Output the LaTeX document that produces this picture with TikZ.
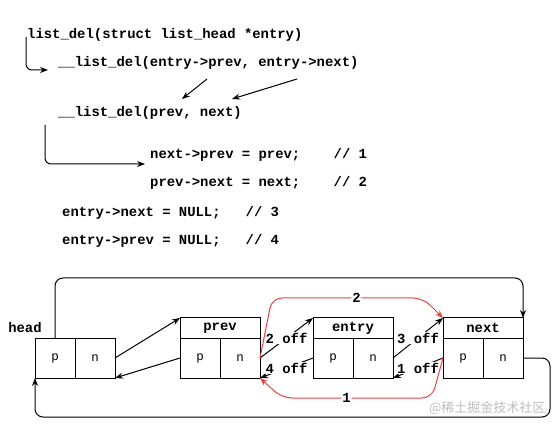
\documentclass[tikz,border=0pt]{standalone}
\usepackage{fontspec}
\setmainfont{Liberation Sans}
\setmonofont{Liberation Mono}
\newfontfamily\cjkfont{Noto Sans CJK SC}
\usetikzlibrary{arrows.meta}
\usetikzlibrary{positioning}
\definecolor{del-red}{HTML}{E84343}
\definecolor{mark-gray}{HTML}{BDBDBD}

\begin{document}
\begin{tikzpicture}[x=1pt, y=-1pt, >={Stealth[length=8pt, width=6pt]},
  code/.style={font=\fontsize{13.9}{16}\selectfont\ttfamily\bfseries, anchor=base west, inner sep=0pt},
  cell/.style={draw, line width=1pt, minimum width=40pt, minimum height=40pt, inner sep=0pt, outer sep=0pt, font=\fontsize{12.5}{14}\selectfont},
  titlebox/.style={draw, line width=1pt, minimum width=80pt, minimum height=20pt, inner sep=0pt, outer sep=0pt, font=\fontsize{13.9}{16}\selectfont\ttfamily\bfseries},
  offlabel/.style={font=\fontsize{13.9}{16}\selectfont\ttfamily\bfseries, fill=white, inner sep=1pt},
  link/.style={->, line width=1pt},
  red link/.style={->, draw=del-red, fill=none, line width=1pt, rounded corners=10pt}]
\useasboundingbox (0,0) rectangle (559,427);
% the calls
\node[code] (call) at (27,39) {list\_del(struct list\_head *entry)};
\node[code] (inner) at (58,67) {\_\_list\_del(entry->prev, entry->next)};
\node[code] (callee) at (58,117) {\_\_list\_del(prev, next)};
\node[code] (step1) at (150,159) {next->prev = prev;\ \ \ \ // 1};
\node[code] (step2) at (150,187) {prev->next = next;\ \ \ \ // 2};
\node[code] (step3) at (62,217) {entry->next = NULL;\ \ \ // 3};
\node[code] (step4) at (62,245) {entry->prev = NULL;\ \ \ // 4};
\coordinate (call-in) at (26,37);
\coordinate (inner-in) at (48,70);
\coordinate (prev-arg) at (207,79);
\coordinate (prev-par) at (182,99);
\coordinate (next-arg) at (297,79);
\coordinate (next-par) at (232,99);
\coordinate (callee-in) at (45,125);
\coordinate (step-in) at (145,164);
\draw[link, rounded corners=6pt] (call-in) |- (inner-in);
\draw[link] (prev-arg) -- (prev-par);
\draw[link] (next-arg) -- (next-par);
\draw[link, rounded corners=6pt] (callee-in) |- (step-in);
% the list
\node[code, anchor=base] (head) at (25,332) {head};
\node[cell] (head-p) at (55,358) {p};
\node[cell, right=0pt of head-p] (head-n) {n};
\foreach \x/\name in {180/prev, 313/entry, 443/next} {
  \node[titlebox, anchor=north west] (\name) at (\x,318) {\name};
  \node[cell, anchor=north west] (\name-p) at (\name.south west) {p};
  \node[cell, right=0pt of \name-p] (\name-n) {n};
}
\coordinate (top) at (0,278);
\coordinate (bottom) at (0,417);
\coordinate (far) at (550,0);
\draw[link, rounded corners=8pt] (head-p.north) -- (head-p.north |- top)
  -- (next.north east |- top) -- (next.north east);
\draw[link, rounded corners=8pt] (next-n.east) -- (next-n.east -| far)
  -- (far |- bottom) -- (head-p.south west |- bottom) -- (head-p.south west);
\draw[link] (head-n.east) -- (prev.north west);
\draw[link] (prev-p.west) -- (head-n.south east);
\draw[link] (prev-n.east) -- node[offlabel] {2 off} (entry.north west);
\draw[link] (entry-p.west) -- node[offlabel] {4 off} (prev-n.south east);
\draw[link] (entry-n.east) -- node[offlabel] {3 off} (next.north west);
\draw[link] (next-p.west) -- node[offlabel] {1 off} (entry-n.south east);
\draw[red link] (prev-n.east) -- ++(12,-60)
  -- node[offlabel, pos=0.56] {2} ++(151,0) -- (next.north west);
\draw[red link] (next-p.west) -- ++(-11,40)
  -- node[offlabel, pos=0.57] {1} ++(-150,0) -- (prev-n.south east);
\node[font=\cjkfont\fontsize{13}{15}\selectfont, text=mark-gray, anchor=east] (mark) at (549,408) {@稀土掘金技术社区};
\end{tikzpicture}
\end{document}
